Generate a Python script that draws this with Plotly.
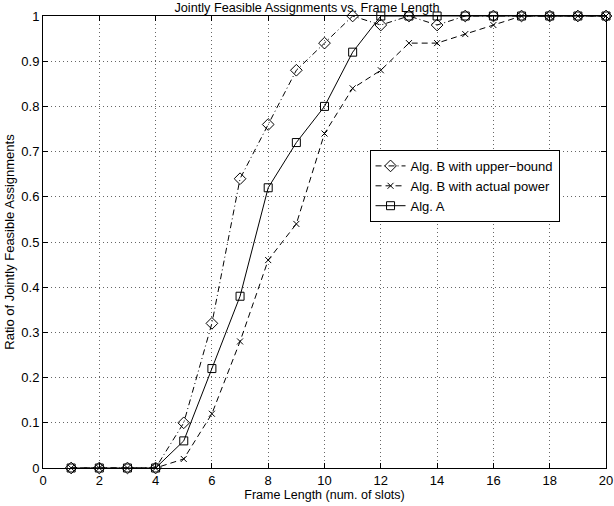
import plotly.graph_objects as go

frame_length = list(range(1, 21))
alg_b_upper = [0, 0, 0, 0, 0.10, 0.32, 0.64, 0.76, 0.88, 0.94, 1.0, 0.98, 1.0, 0.98, 1.0, 1.0, 1.0, 1.0, 1.0, 1.0]
alg_b_actual = [0, 0, 0, 0, 0.02, 0.12, 0.28, 0.46, 0.54, 0.74, 0.84, 0.88, 0.94, 0.94, 0.96, 0.98, 1.0, 1.0, 1.0, 1.0]
alg_a = [0, 0, 0, 0, 0.06, 0.22, 0.38, 0.62, 0.72, 0.80, 0.92, 1.0, 1.0, 1.0, 1.0, 1.0, 1.0, 1.0, 1.0, 1.0]

x_ticks = list(range(0, 21, 2))
y_ticks = [round(i * 0.1, 1) for i in range(11)]
y_tick_text = ["0", "0.1", "0.2", "0.3", "0.4", "0.5", "0.6", "0.7", "0.8", "0.9", "1"]

fam = "Liberation Sans, Arial, sans-serif"
title_font = dict(family=fam, size=12.7, color="black")
xlab_font = dict(family=fam, size=12.5, color="black")
ylab_font = dict(family=fam, size=13, color="black")
tick_font = dict(family=fam, size=13, color="black")
legend_font = dict(family=fam, size=13, color="black")

fig = go.Figure()
fig.add_trace(go.Scatter(
    x=frame_length, y=alg_b_upper, name="Alg. B with upper\u2212bound",
    mode="lines+markers", cliponaxis=False,
    line=dict(color="black", width=1, dash="6px,3px,1px,3px"),
    marker=dict(symbol="diamond-open", size=9, color="black", line=dict(width=1)),
))
fig.add_trace(go.Scatter(
    x=frame_length, y=alg_b_actual, name="Alg. B with actual power",
    mode="lines+markers", cliponaxis=False,
    line=dict(color="black", width=1, dash="6px,4px"),
    marker=dict(symbol="x-thin-open", size=6, color="black", line=dict(width=1, color="black")),
))
fig.add_trace(go.Scatter(
    x=frame_length, y=alg_a, name="Alg. A",
    mode="lines+markers", cliponaxis=False,
    line=dict(color="black", width=1),
    marker=dict(symbol="square-open", size=8, color="black", line=dict(width=1)),
))

axis_common = dict(
    showline=True, linecolor="black", linewidth=1, mirror="ticks",
    ticks="inside", ticklen=5, tickcolor="black",
    showgrid=True, gridcolor="#666", griddash="1px,3px", gridwidth=1,
    zeroline=False, tickfont=tick_font, automargin=False,
    ticklabeloverflow="allow",
)

fig.update_layout(
    width=614, height=506,
    margin=dict(l=43, r=8, t=16, b=38),
    paper_bgcolor="white", plot_bgcolor="white",
    font=title_font,
    title=dict(text="Jointly Feasible Assignments vs. Frame Length", x=0.5, xanchor="center",
               y=1 - 8 / 506, yanchor="middle", font=title_font),
    xaxis=dict(range=[0, 20], tickvals=x_ticks, title=dict(text="Frame Length (num. of slots)", font=xlab_font, standoff=0), **axis_common),
    yaxis=dict(range=[0, 1], tickvals=y_ticks, ticktext=y_tick_text, title=dict(text="Ratio of Jointly Feasible Assignments", font=ylab_font, standoff=3), **axis_common),
    legend=dict(x=0.58, y=0.624, xanchor="left", yanchor="middle", bgcolor="white",
                bordercolor="black", borderwidth=1, font=legend_font, tracegroupgap=0,
                itemwidth=30),
    showlegend=True,
)

fig.write_html("out.html", config={"displayModeBar": False},
               post_script="document.body.style.margin='0';document.body.style.overflow='hidden';")
